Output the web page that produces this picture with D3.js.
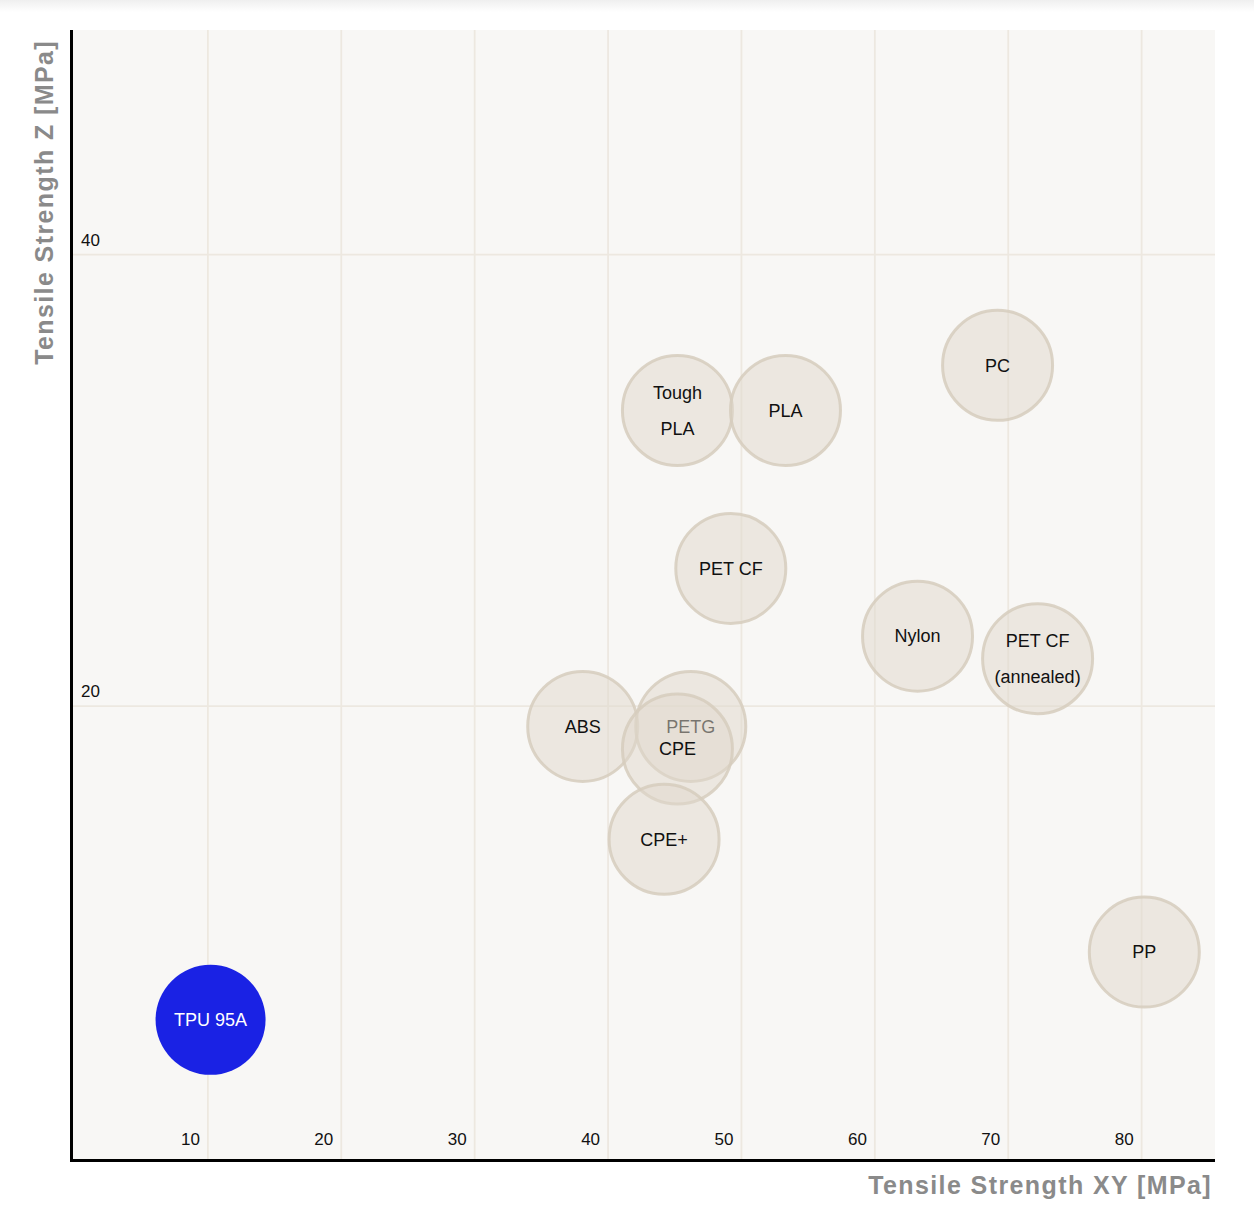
<!DOCTYPE html>
<html>
<head>
<meta charset="utf-8">
<script src="https://cdn.jsdelivr.net/npm/d3@7/dist/d3.min.js"></script>
<style>
  html, body { margin: 0; padding: 0; background: #ffffff; }
  svg { display: block; }
  text { font-family: "Liberation Sans", Arial, Helvetica, sans-serif; }
</style>
</head>
<body>
<svg id="chart" width="1254" height="1218"></svg>
<script>
// ---- data ----
const materials = ["TPU 95A", "PP", "ABS", "PETG", "CPE", "CPE+", "Nylon", "PET CF|(annealed)", "PET CF", "Tough|PLA", "PLA", "PC"];
const strengthXY = [10.2, 80.2, 38.1, 46.2, 45.2, 44.2, 63.2, 72.2, 49.2, 45.2, 53.3, 69.2];
const strengthZ  = [6.1, 9.1, 19.1, 19.1, 18.1, 14.1, 23.1, 22.1, 26.1, 33.1, 33.1, 35.1];
const highlighted = ["TPU 95A"];
const xTicks = [10, 20, 30, 40, 50, 60, 70, 80];
const yTicks = [20, 40];
const xTitle = "Tensile Strength XY [MPa]";
const yTitle = "Tensile Strength Z [MPa]";

const svg = d3.select("#chart");
const plot = { left: 72, right: 1215, top: 30, bottom: 1160 };
const R = 55;

const x = d3.scaleLinear().domain([0, 85.5]).range([74.5, plot.right]);
const y = d3.scaleLinear().domain([0, 50]).range([1157.5, 29]);

// top faint band
const defs = svg.append("defs");
const grad = defs.append("linearGradient").attr("id", "topband").attr("x1", 0).attr("x2", 0).attr("y1", 0).attr("y2", 1);
grad.append("stop").attr("offset", "0%").attr("stop-color", "#efefef");
grad.append("stop").attr("offset", "100%").attr("stop-color", "#ffffff");
svg.append("rect").attr("x", 0).attr("y", 0).attr("width", 1254).attr("height", 12).attr("fill", "url(#topband)");

// plot background
svg.append("rect")
  .attr("x", plot.left).attr("y", plot.top)
  .attr("width", plot.right - plot.left).attr("height", plot.bottom - plot.top)
  .attr("fill", "#f8f7f5");

// grid
const grid = svg.append("g").attr("stroke", "#ede8e0").attr("stroke-width", 1.8);
grid.selectAll("line.vx").data(xTicks).join("line")
  .attr("x1", d => x(d)).attr("x2", d => x(d))
  .attr("y1", plot.top).attr("y2", plot.bottom);
grid.selectAll("line.hy").data(yTicks).join("line")
  .attr("y1", d => y(d)).attr("y2", d => y(d))
  .attr("x1", plot.left).attr("x2", plot.right);

// tick labels
svg.append("g").selectAll("text").data(xTicks).join("text")
  .attr("x", d => x(d) - 8).attr("y", 1145)
  .attr("text-anchor", "end").attr("font-size", 17).attr("fill", "#111")
  .text(d => d);
svg.append("g").selectAll("text").data(yTicks).join("text")
  .attr("x", 81).attr("y", d => y(d) - 9)
  .attr("text-anchor", "start").attr("font-size", 17).attr("fill", "#111")
  .text(d => d);

// bubbles
const data = materials.map((m, i) => ({ name: m, xv: strengthXY[i], yv: strengthZ[i], hi: highlighted.includes(m) }));
const bub = svg.append("g").selectAll("g").data(data).join("g")
  .attr("transform", d => `translate(${x(d.xv)},${y(d.yv)})`);
bub.append("circle")
  .attr("r", R)
  .attr("fill", d => d.hi ? "#1a22e4" : "rgb(224,216,204)")
  .attr("fill-opacity", d => d.hi ? 1 : 0.5)
  .attr("stroke", d => d.hi ? "#1a22e4" : "#d6ccbd")
  .attr("stroke-opacity", d => d.hi ? 1 : 0.85)
  .attr("stroke-width", d => d.hi ? 0 : 3);
bub.each(function(d) {
  const lines = d.name.split("|");
  const g = d3.select(this);
  lines.forEach((ln, k) => {
    g.append("text")
      .attr("x", 0)
      .attr("y", (k - (lines.length - 1) / 2) * 36)
      .attr("dy", "0.35em")
      .attr("text-anchor", "middle")
      .attr("font-size", 18)
      .attr("fill", d.hi ? "#ffffff" : "#111")
      .text(ln);
  });
});

// axis lines
svg.append("line").attr("x1", 71.5).attr("x2", 71.5).attr("y1", plot.top).attr("y2", 1162)
  .attr("stroke", "#000").attr("stroke-width", 3);
svg.append("line").attr("x1", 70).attr("x2", plot.right).attr("y1", 1160.5).attr("y2", 1160.5)
  .attr("stroke", "#000").attr("stroke-width", 3);

// axis titles
svg.append("text")
  .attr("x", 1212).attr("y", 1194)
  .attr("text-anchor", "end")
  .attr("font-size", 25).attr("font-weight", "bold")
  .attr("letter-spacing", "1.4px")
  .attr("fill", "#8a8a8a")
  .text(xTitle);
svg.append("text")
  .attr("transform", "translate(53,40) rotate(-90)")
  .attr("text-anchor", "end")
  .attr("font-size", 25).attr("font-weight", "bold")
  .attr("letter-spacing", "1.4px")
  .attr("fill", "#8a8a8a")
  .text(yTitle);
</script>
</body>
</html>
